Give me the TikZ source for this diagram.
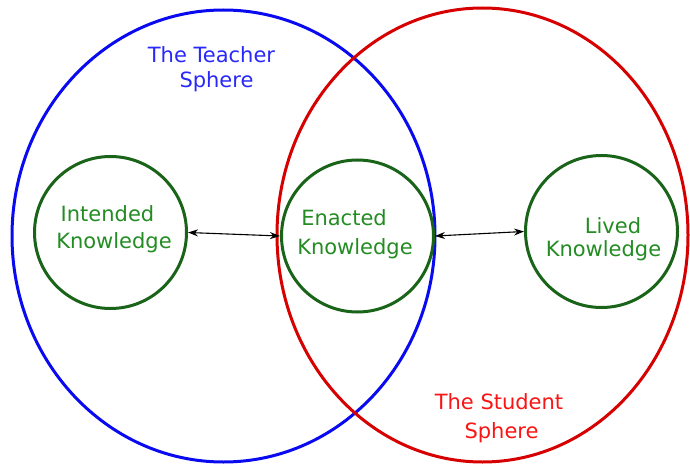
\documentclass[tikz,border=0pt]{standalone}
\usepackage{fontspec}
\setmainfont{DejaVu Sans}
\usetikzlibrary{arrows.meta}
\definecolor{sblue}{RGB}{10,10,240}
\definecolor{tblue}{RGB}{40,40,250}
\definecolor{sred}{RGB}{215,0,0}
\definecolor{tred}{RGB}{250,20,20}
\definecolor{cgreen}{RGB}{25,100,25}
\definecolor{tgreen}{RGB}{35,140,35}
\tikzset{
  know/.style={draw=cgreen, line width=3pt, circle, minimum size=152pt, inner sep=0pt},
  txt/.style={anchor=base, inner sep=0pt, font=\fontsize{21}{25}\selectfont},
  gtxt/.style={txt, text=tgreen},
  link/.style={black, line width=1.1pt, {Stealth[length=10pt,width=7pt]}-{Stealth[length=10pt,width=7pt]}}
}
\begin{document}
\begin{tikzpicture}[x=1pt,y=-1pt]
\useasboundingbox (0,0) rectangle (690,465);
\draw[sblue, line width=3pt] (223.5,236) ellipse [x radius=211.5, y radius=226];
\draw[sred, line width=3pt] (482.5,235) ellipse [x radius=205.5, y radius=227];
\node[know] (intended) at (110.5,232.5) {};
\node[know] (enacted) at (357.5,236) {};
\node[know] (lived) at (601.5,231.5) {};
\node[gtxt] (i1) at (107.5,221) {Intended};
\node[gtxt] (i2) at (114,248) {Knowledge};
\node[gtxt] (e1) at (344,225) {Enacted};
\node[gtxt] (e2) at (355,254) {Knowledge};
\node[gtxt] (l1) at (613,233) {Lived};
\node[gtxt] (l2) at (603.5,256) {Knowledge};
\node[txt, text=tblue] (t1) at (211.5,63) {The Teacher};
\node[txt, text=tblue] (t2) at (216.5,88) {Sphere};
\node[txt, text=tred] (s1) at (499,409) {The Student};
\node[txt, text=tred] (s2) at (501.5,438.5) {Sphere};
\draw[link] (intended.east) -- (enacted.west);
\draw[link] (enacted.east) -- (lived.west);
\end{tikzpicture}
\end{document}
